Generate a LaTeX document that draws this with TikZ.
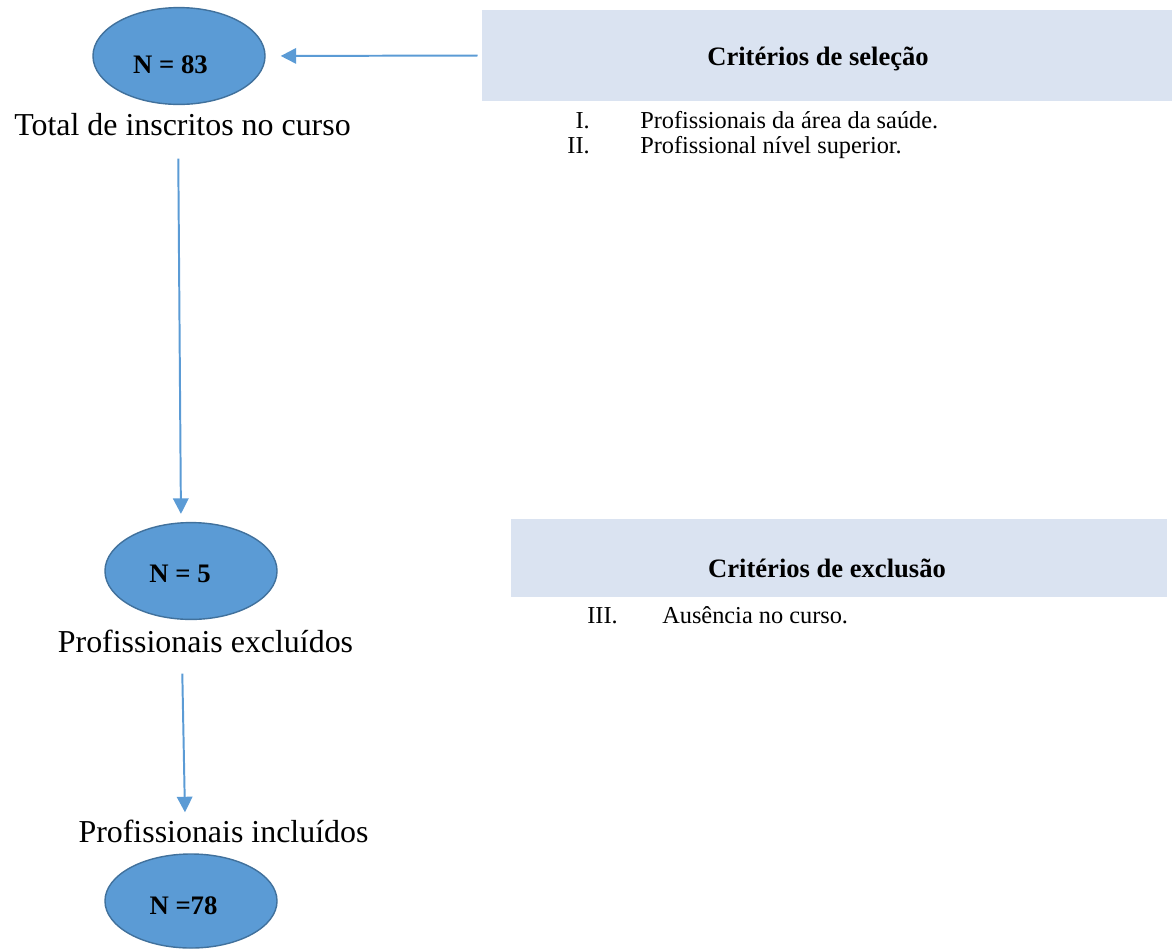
\documentclass[tikz,border=0pt]{standalone}
\usepackage{fontspec}
\setmainfont{Liberation Serif}
\usetikzlibrary{shapes.geometric,arrows.meta}

\definecolor{elfill}{HTML}{5B9BD5}
\definecolor{eldraw}{HTML}{41719C}
\definecolor{boxfill}{HTML}{DAE3F1}

\tikzset{
 pop/.style={ellipse,draw=eldraw,fill=elfill,line width=1pt,minimum width=4.3cm,minimum height=2.42cm,inner sep=0pt},
 popnum/.style={font=\fontsize{19}{23}\selectfont\bfseries,inner sep=0pt},
 poplabel/.style={font=\fontsize{22.7}{27}\selectfont,inner sep=0pt,anchor=base},
 critbox/.style={fill=boxfill,inner sep=0pt},
 crittitle/.style={font=\fontsize{18.9}{23}\selectfont\bfseries,inner sep=0pt,anchor=base},
 critnum/.style={font=\fontsize{17.3}{21}\selectfont,inner sep=0pt,anchor=base east},
 crititem/.style={font=\fontsize{17.3}{21}\selectfont,inner sep=0pt,anchor=base west},
 flow/.style={-{Triangle[length=11pt,width=11pt]},draw=elfill,line width=1.4pt}
}

\begin{document}
\begin{tikzpicture}[x=0.025cm,y=-0.025cm]
 \useasboundingbox (0,0) rectangle (1172,949);

 % populacao
 \node[pop] (n83) at (179,56) {};
 \node[popnum] (n83t) at (170.5,65) {N = 83};
 \node[poplabel] (total) at (182.5,135) {Total de inscritos no curso};

 \node[pop] (n5) at (191,571) {};
 \node[popnum] (n5t) at (180,574) {N = 5};
 \node[poplabel] (excl) at (205.5,652) {Profissionais excluídos};

 \node[poplabel] (incl) at (223.5,842) {Profissionais incluídos};
 \node[pop,minimum height=2.35cm] (n78) at (191,901) {};
 \node[popnum] (n78t) at (183.5,906) {N =78};

 % criterios
 \node[critbox,minimum width=17.25cm,minimum height=2.275cm] (sel) at (827,55.5) {};
 \node[crittitle] (seltit) at (818,65) {Critérios de seleção};
 \node[critnum] (i1) at (590,128) {I.};
 \node[crititem] (t1) at (640,128) {Profissionais da área da saúde.};
 \node[critnum] (i2) at (590,153) {II.};
 \node[crititem] (t2) at (640,153) {Profissional nível superior.};

 \node[critbox,minimum width=16.4cm,minimum height=1.95cm] (exc) at (839,558) {};
 \node[crittitle] (exctit) at (827,577) {Critérios de exclusão};
 \node[critnum] (i3) at (618,623) {III.};
 \node[crititem] (t3) at (662,623) {Ausência no curso.};

 % setas
 \draw[flow,shorten <=0.1cm,shorten >=0.375cm] (sel.west) -- (n83.east);
 \draw[flow,shorten <=0.575cm,shorten >=0.2cm] ([xshift=-0.11cm]total.south) -- ([xshift=-0.25cm]n5.north);
 \draw[flow,shorten <=0.525cm,shorten >=0.175cm] ([xshift=-0.59cm]excl.south) -- ([xshift=-0.96cm]incl.north);
\end{tikzpicture}
\end{document}
